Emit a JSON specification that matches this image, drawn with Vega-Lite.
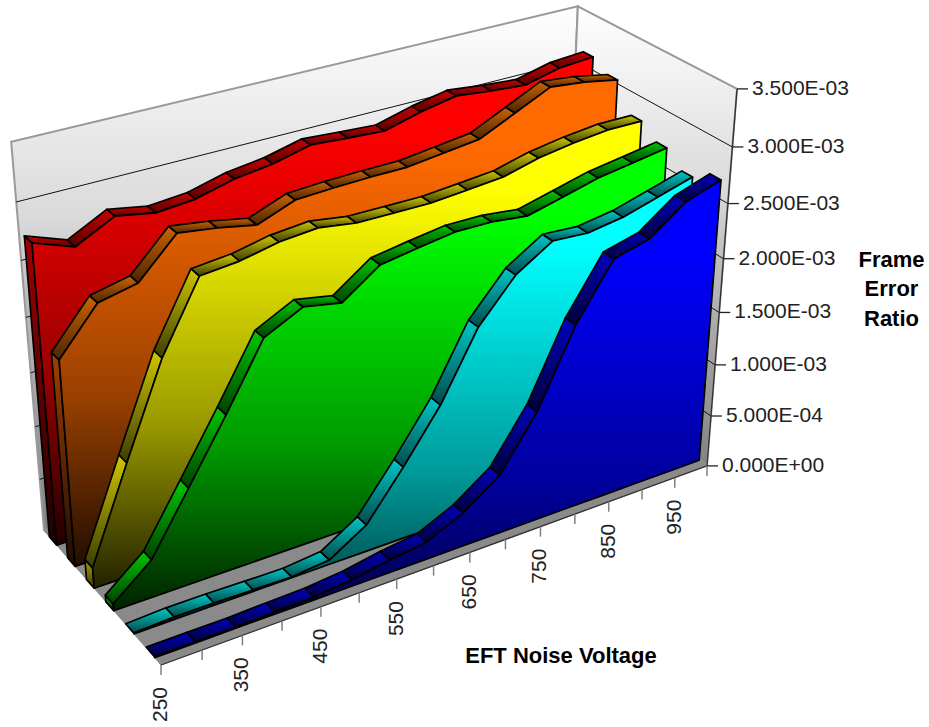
{"$schema":"https://vega.github.io/schema/vega-lite/v6.json","width":929,"height":727,"padding":0,"autosize":{"type":"none"},"background":"white","config":{"view":{"stroke":null},"text":{"font":"Liberation Sans"}},
"datasets":{
"fer":[
{"series":0,"voltage":250,"fer":0.00001},{"series":0,"voltage":300,"fer":0.00001},{"series":0,"voltage":350,"fer":0.00001},{"series":0,"voltage":400,"fer":0.00002},{"series":0,"voltage":450,"fer":0.000028},{"series":0,"voltage":500,"fer":0.00006},{"series":0,"voltage":550,"fer":0.000122},{"series":0,"voltage":600,"fer":0.000165},{"series":0,"voltage":650,"fer":0.000322},{"series":0,"voltage":700,"fer":0.000564},{"series":0,"voltage":750,"fer":0.001047},{"series":0,"voltage":800,"fer":0.001743},{"series":0,"voltage":850,"fer":0.00224},{"series":0,"voltage":900,"fer":0.002324},{"series":0,"voltage":950,"fer":0.002562},{"series":0,"voltage":1000,"fer":0.002667},
{"series":1,"voltage":250,"fer":0.000007},{"series":1,"voltage":300,"fer":0.000023},{"series":1,"voltage":350,"fer":0.000022},{"series":1,"voltage":400,"fer":0.000013},{"series":1,"voltage":450,"fer":0.000007},{"series":1,"voltage":500,"fer":0.000041},{"series":1,"voltage":550,"fer":0.000254},{"series":1,"voltage":600,"fer":0.000686},{"series":1,"voltage":650,"fer":0.001155},{"series":1,"voltage":700,"fer":0.001764},{"series":1,"voltage":750,"fer":0.002135},{"series":1,"voltage":800,"fer":0.002342},{"series":1,"voltage":850,"fer":0.00232},{"series":1,"voltage":900,"fer":0.00237},{"series":1,"voltage":950,"fer":0.00246},{"series":1,"voltage":1000,"fer":0.002552},
{"series":2,"voltage":250,"fer":0.000063},{"series":2,"voltage":300,"fer":0.00035},{"series":2,"voltage":350,"fer":0.000895},{"series":2,"voltage":400,"fer":0.001444},{"series":2,"voltage":450,"fer":0.00202},{"series":2,"voltage":500,"fer":0.002188},{"series":2,"voltage":550,"fer":0.002123},{"series":2,"voltage":600,"fer":0.002359},{"series":2,"voltage":650,"fer":0.002412},{"series":2,"voltage":700,"fer":0.002459},{"series":2,"voltage":750,"fer":0.002455},{"series":2,"voltage":800,"fer":0.002417},{"series":2,"voltage":850,"fer":0.002497},{"series":2,"voltage":900,"fer":0.002579},{"series":2,"voltage":950,"fer":0.002627},{"series":2,"voltage":1000,"fer":0.002677},
{"series":3,"voltage":250,"fer":0.000193},{"series":3,"voltage":300,"fer":0.001052},{"series":3,"voltage":350,"fer":0.001884},{"series":3,"voltage":400,"fer":0.002496},{"series":3,"voltage":450,"fer":0.002527},{"series":3,"voltage":500,"fer":0.002596},{"series":3,"voltage":550,"fer":0.002625},{"series":3,"voltage":600,"fer":0.002575},{"series":3,"voltage":650,"fer":0.002571},{"series":3,"voltage":700,"fer":0.002569},{"series":3,"voltage":750,"fer":0.002595},{"series":3,"voltage":800,"fer":0.002623},{"series":3,"voltage":850,"fer":0.002706},{"series":3,"voltage":900,"fer":0.002756},{"series":3,"voltage":950,"fer":0.00279},{"series":3,"voltage":1000,"fer":0.002788},
{"series":4,"voltage":250,"fer":0.001908},{"series":4,"voltage":300,"fer":0.002302},{"series":4,"voltage":350,"fer":0.002376},{"series":4,"voltage":400,"fer":0.00271},{"series":4,"voltage":450,"fer":0.002661},{"series":4,"voltage":500,"fer":0.002594},{"series":4,"voltage":550,"fer":0.002721},{"series":4,"voltage":600,"fer":0.002737},{"series":4,"voltage":650,"fer":0.002745},{"series":4,"voltage":700,"fer":0.002746},{"series":4,"voltage":750,"fer":0.002785},{"series":4,"voltage":800,"fer":0.002825},{"series":4,"voltage":850,"fer":0.002976},{"series":4,"voltage":900,"fer":0.003128},{"series":4,"voltage":950,"fer":0.003094},{"series":4,"voltage":1000,"fer":0.003034},
{"series":5,"voltage":250,"fer":0.002757},{"series":5,"voltage":300,"fer":0.002628},{"series":5,"voltage":350,"fer":0.0028},{"series":5,"voltage":400,"fer":0.002736},{"series":5,"voltage":450,"fer":0.002765},{"series":5,"voltage":500,"fer":0.002851},{"series":5,"voltage":550,"fer":0.002895},{"series":5,"voltage":600,"fer":0.002975},{"series":5,"voltage":650,"fer":0.002952},{"series":5,"voltage":700,"fer":0.002931},{"series":5,"voltage":750,"fer":0.003018},{"series":5,"voltage":800,"fer":0.003081},{"series":5,"voltage":850,"fer":0.003045},{"series":5,"voltage":900,"fer":0.00302},{"series":5,"voltage":950,"fer":0.003096},{"series":5,"voltage":1000,"fer":0.00312}
],
"frame":[
{"poly":"back","ord":0,"voltage":250,"depth":1,"fer":0},{"poly":"back","ord":1,"voltage":250,"depth":1,"fer":0.0035},{"poly":"back","ord":2,"voltage":1000,"depth":1,"fer":0.0035},{"poly":"back","ord":3,"voltage":1000,"depth":1,"fer":0},{"poly":"back","ord":4,"voltage":250,"depth":1,"fer":0},
{"poly":"side","ord":0,"voltage":1000,"depth":1,"fer":0},{"poly":"side","ord":1,"voltage":1000,"depth":1,"fer":0.0035},{"poly":"side","ord":2,"voltage":1000,"depth":0,"fer":0.0035},{"poly":"side","ord":3,"voltage":1000,"depth":0,"fer":0},{"poly":"side","ord":4,"voltage":1000,"depth":1,"fer":0},
{"poly":"floor","ord":0,"voltage":250,"depth":0,"fer":0},{"poly":"floor","ord":1,"voltage":1000,"depth":0,"fer":0},{"poly":"floor","ord":2,"voltage":1000,"depth":1,"fer":0},{"poly":"floor","ord":3,"voltage":250,"depth":1,"fer":0},{"poly":"floor","ord":4,"voltage":250,"depth":0,"fer":0},
{"poly":"edge","ord":0,"voltage":250,"depth":0,"fer":0},{"poly":"edge","ord":1,"voltage":1000,"depth":0,"fer":0},{"poly":"edge","ord":2,"voltage":1000,"depth":0,"fer":0.0035}
],
"ticks":[{"fer":0,"label":"0.000E+00"},{"fer":0.0005,"label":"5.000E-04"},{"fer":0.001,"label":"1.000E-03"},{"fer":0.0015,"label":"1.500E-03"},{"fer":0.002,"label":"2.000E-03"},{"fer":0.0025,"label":"2.500E-03"},{"fer":0.003,"label":"3.000E-03"},{"fer":0.0035,"label":"3.500E-03"}],
"volts":[{"voltage":250},{"voltage":300},{"voltage":350},{"voltage":400},{"voltage":450},{"voltage":500},{"voltage":550},{"voltage":600},{"voltage":650},{"voltage":700},{"voltage":750},{"voltage":800},{"voltage":850},{"voltage":900},{"voltage":950},{"voltage":1000}]
},
"data":{"name":"fer"},
"transform":[
{"window":[{"op":"lead","field":"fer","as":"f2"},{"op":"lead","field":"voltage","as":"v2"}],"groupby":["series"],"sort":[{"field":"voltage","order":"ascending"}]},
{"calculate":"['face','strip','end']","as":"part"},{"flatten":["part"]},
{"calculate":"[0,1,2,3,4]","as":"corner"},{"flatten":["corner"]},
{"filter":"(datum.part=='face'&&(datum.corner<2||(datum.corner==2&&datum.voltage==250)))||(datum.part=='strip'&&isValid(datum.v2))||(datum.part=='end'&&datum.voltage==250)"},
{"calculate":"datum.part=='face'?(datum.corner==2?99999:(datum.corner==0?datum.voltage:5000-datum.voltage)):datum.corner","as":"ord"},
{"calculate":"datum.part=='face'?0:datum.voltage","as":"poly"},
{"calculate":"(datum.part=='strip'&&(datum.corner==1||datum.corner==2)?(datum.v2-250):(datum.voltage-250))/750","as":"U"},
{"calculate":"datum.series/6+(datum.part=='face'?0.05:(datum.part=='strip'?((datum.corner==2||datum.corner==3)?0.1167:0.05):((datum.corner==1||datum.corner==2)?0.1167:0.05)))","as":"W"},
{"calculate":"datum.part=='face'?(datum.corner==1?0:datum.fer/0.0035):(datum.part=='strip'?((datum.corner==1||datum.corner==2)?datum.f2/0.0035:datum.fer/0.0035):((datum.corner==2||datum.corner==3)?0:datum.fer/0.0035))","as":"H"},
{"calculate":"1+0.1395*datum.U+0.0919*datum.W-0.09667*datum.H","as":"D"},
{"calculate":"(161+644.6*datum.U-112.9*datum.W-37*datum.H)/datum.D","as":"X"},
{"calculate":"(665-134.1*datum.U-85.6*datum.W-438.2*datum.H)/datum.D","as":"Y"}
],
"encoding":{
"x":{"field":"X","type":"quantitative","scale":{"domain":[0,929],"nice":false,"zero":false},"axis":{"orient":"top","title":"EFT Noise Voltage","titleX":560.5,"titleY":655,"titleFont":"Liberation Sans","titleFontWeight":"bold","titleFontSize":22,"titleColor":"#000000","titleAlign":"center","titleBaseline":"middle","labels":false,"ticks":false,"domain":false,"grid":false}},
"y":{"field":"Y","type":"quantitative","scale":{"domain":[727,0],"nice":false,"zero":false},"axis":{"orient":"left","title":["Frame","Error","Ratio"],"titleX":891,"titleY":259,"titleAngle":0,"titleFont":"Liberation Sans","titleFontWeight":"bold","titleFontSize":22,"titleLineHeight":29.5,"titleColor":"#000000","titleAlign":"center","titleBaseline":"middle","labels":false,"ticks":false,"domain":false,"grid":false}},
"order":{"field":"ord","type":"quantitative"},
"detail":{"field":"poly"}
},
"layer":[
{"data":{"name":"frame"},"transform":[{"filter":"datum.poly=='back'"},{"calculate":"(datum.voltage-250)/750","as":"U"},{"calculate":"datum.depth","as":"W"},{"calculate":"datum.fer/0.0035","as":"H"},{"calculate":"1+0.1395*datum.U+0.0919*datum.W-0.09667*datum.H","as":"D"},{"calculate":"(161+644.6*datum.U-112.9*datum.W-37*datum.H)/datum.D","as":"X"},{"calculate":"(665-134.1*datum.U-85.6*datum.W-438.2*datum.H)/datum.D","as":"Y"}],
"mark":{"type":"line","stroke":"#999999","strokeWidth":2,"fill":{"gradient":"linear","x1":0,"y1":0,"x2":0,"y2":1,"stops":[{"offset":0,"color":"#ffffff"},{"offset":0.4,"color":"#dadada"},{"offset":0.55,"color":"#bebebe"},{"offset":1,"color":"#828282"}]}}},
{"data":{"name":"frame"},"transform":[{"filter":"datum.poly=='side'"},{"calculate":"(datum.voltage-250)/750","as":"U"},{"calculate":"datum.depth","as":"W"},{"calculate":"datum.fer/0.0035","as":"H"},{"calculate":"1+0.1395*datum.U+0.0919*datum.W-0.09667*datum.H","as":"D"},{"calculate":"(161+644.6*datum.U-112.9*datum.W-37*datum.H)/datum.D","as":"X"},{"calculate":"(665-134.1*datum.U-85.6*datum.W-438.2*datum.H)/datum.D","as":"Y"}],
"mark":{"type":"line","stroke":"#999999","strokeWidth":2,"fill":{"gradient":"linear","x1":0,"y1":0,"x2":0,"y2":1,"stops":[{"offset":0,"color":"#ffffff"},{"offset":0.4,"color":"#dadada"},{"offset":0.55,"color":"#bebebe"},{"offset":1,"color":"#828282"}]}}},
{"data":{"name":"frame"},"transform":[{"filter":"datum.poly=='floor'"},{"calculate":"(datum.voltage-250)/750","as":"U"},{"calculate":"datum.depth","as":"W"},{"calculate":"datum.fer/0.0035","as":"H"},{"calculate":"1+0.1395*datum.U+0.0919*datum.W-0.09667*datum.H","as":"D"},{"calculate":"(161+644.6*datum.U-112.9*datum.W-37*datum.H)/datum.D","as":"X"},{"calculate":"(665-134.1*datum.U-85.6*datum.W-438.2*datum.H)/datum.D","as":"Y"}],
"mark":{"type":"line","fill":"#8a8a8a","stroke":"#8a8a8a","strokeWidth":1}},
{"data":{"name":"ticks"},"transform":[{"filter":"datum.fer>0&&datum.fer<0.0035"},{"calculate":"datum.fer","as":"poly"},{"calculate":"[0,1,2]","as":"ord"},{"flatten":["ord"]},{"calculate":"datum.ord==0?0:1","as":"U"},{"calculate":"datum.ord==2?0:1","as":"W"},{"calculate":"datum.fer/0.0035","as":"H"},{"calculate":"1+0.1395*datum.U+0.0919*datum.W-0.09667*datum.H","as":"D"},{"calculate":"(161+644.6*datum.U-112.9*datum.W-37*datum.H)/datum.D","as":"X"},{"calculate":"(665-134.1*datum.U-85.6*datum.W-438.2*datum.H)/datum.D","as":"Y"}],
"mark":{"type":"line","stroke":"#111111","strokeWidth":1}},
{"data":{"name":"frame"},"transform":[{"filter":"datum.poly=='edge'"},{"calculate":"(datum.voltage-250)/750","as":"U"},{"calculate":"datum.depth","as":"W"},{"calculate":"datum.fer/0.0035","as":"H"},{"calculate":"1+0.1395*datum.U+0.0919*datum.W-0.09667*datum.H","as":"D"},{"calculate":"(161+644.6*datum.U-112.9*datum.W-37*datum.H)/datum.D","as":"X"},{"calculate":"(665-134.1*datum.U-85.6*datum.W-438.2*datum.H)/datum.D","as":"Y"}],
"mark":{"type":"line","stroke":"#333333","strokeWidth":1.3}},

{"transform":[{"filter":"datum.part=='end'&&datum.series==5"}],"mark":{"type":"line","stroke":"#000000","strokeWidth":1.7,"strokeJoin":"round","fill":{"gradient":"linear","x1":0,"y1":0,"x2":0,"y2":1,"stops":[{"offset":0,"color":"#a00000"},{"offset":1,"color":"#1e0000"}]}}},
{"transform":[{"filter":"datum.part=='strip'&&datum.series==5"}],"mark":{"type":"line","stroke":"#000000","strokeWidth":1.7,"strokeJoin":"round","fill":{"gradient":"linear","x1":0,"y1":0,"x2":0,"y2":1,"stops":[{"offset":0,"color":"#d00000"},{"offset":1,"color":"#500000"}]}}},
{"transform":[{"filter":"datum.part=='face'&&datum.series==5"}],"mark":{"type":"line","stroke":"#000000","strokeWidth":1.7,"strokeJoin":"round","fill":{"gradient":"linear","x1":0,"y1":0,"x2":0,"y2":1,"stops":[{"offset":0,"color":"#ff0000"},{"offset":0.15,"color":"#ff0000"},{"offset":0.65,"color":"#990000"},{"offset":1,"color":"#220000"}]}}},

{"transform":[{"filter":"datum.part=='end'&&datum.series==4"}],"mark":{"type":"line","stroke":"#000000","strokeWidth":1.7,"strokeJoin":"round","fill":{"gradient":"linear","x1":0,"y1":0,"x2":0,"y2":1,"stops":[{"offset":0,"color":"#a04000"},{"offset":1,"color":"#1e0c00"}]}}},
{"transform":[{"filter":"datum.part=='strip'&&datum.series==4"}],"mark":{"type":"line","stroke":"#000000","strokeWidth":1.7,"strokeJoin":"round","fill":{"gradient":"linear","x1":0,"y1":0,"x2":0,"y2":1,"stops":[{"offset":0,"color":"#cc6400"},{"offset":1,"color":"#4a2400"}]}}},
{"transform":[{"filter":"datum.part=='face'&&datum.series==4"}],"mark":{"type":"line","stroke":"#000000","strokeWidth":1.7,"strokeJoin":"round","fill":{"gradient":"linear","x1":0,"y1":0,"x2":0,"y2":1,"stops":[{"offset":0,"color":"#ff6a00"},{"offset":0.15,"color":"#ff6a00"},{"offset":0.65,"color":"#994000"},{"offset":1,"color":"#220e00"}]}}},

{"transform":[{"filter":"datum.part=='end'&&datum.series==3"}],"mark":{"type":"line","stroke":"#000000","strokeWidth":1.7,"strokeJoin":"round","fill":{"gradient":"linear","x1":0,"y1":0,"x2":0,"y2":1,"stops":[{"offset":0,"color":"#b0a800"},{"offset":1,"color":"#3c3800"}]}}},
{"transform":[{"filter":"datum.part=='strip'&&datum.series==3"}],"mark":{"type":"line","stroke":"#000000","strokeWidth":1.7,"strokeJoin":"round","fill":{"gradient":"linear","x1":0,"y1":0,"x2":0,"y2":1,"stops":[{"offset":0,"color":"#d0c800"},{"offset":1,"color":"#3c3c00"}]}}},
{"transform":[{"filter":"datum.part=='face'&&datum.series==3"}],"mark":{"type":"line","stroke":"#000000","strokeWidth":1.7,"strokeJoin":"round","fill":{"gradient":"linear","x1":0,"y1":0,"x2":0,"y2":1,"stops":[{"offset":0,"color":"#ffff00"},{"offset":0.15,"color":"#ffff00"},{"offset":0.65,"color":"#999900"},{"offset":1,"color":"#222200"}]}}},

{"transform":[{"filter":"datum.part=='end'&&datum.series==2"}],"mark":{"type":"line","stroke":"#000000","strokeWidth":1.7,"strokeJoin":"round","fill":{"gradient":"linear","x1":0,"y1":0,"x2":0,"y2":1,"stops":[{"offset":0,"color":"#00a800"},{"offset":1,"color":"#004000"}]}}},
{"transform":[{"filter":"datum.part=='strip'&&datum.series==2"}],"mark":{"type":"line","stroke":"#000000","strokeWidth":1.7,"strokeJoin":"round","fill":{"gradient":"linear","x1":0,"y1":0,"x2":0,"y2":1,"stops":[{"offset":0,"color":"#00c800"},{"offset":1,"color":"#004000"}]}}},
{"transform":[{"filter":"datum.part=='face'&&datum.series==2"}],"mark":{"type":"line","stroke":"#000000","strokeWidth":1.7,"strokeJoin":"round","fill":{"gradient":"linear","x1":0,"y1":0,"x2":0,"y2":1,"stops":[{"offset":0,"color":"#00ff00"},{"offset":0.15,"color":"#00ff00"},{"offset":0.65,"color":"#009900"},{"offset":1,"color":"#002200"}]}}},

{"transform":[{"filter":"datum.part=='strip'&&datum.series==1"}],"mark":{"type":"line","stroke":"#000000","strokeWidth":1.7,"strokeJoin":"round","fill":{"gradient":"linear","x1":0,"y1":0,"x2":0,"y2":1,"stops":[{"offset":0,"color":"#00c8c8"},{"offset":1,"color":"#004a4a"}]}}},
{"transform":[{"filter":"datum.part=='face'&&datum.series==1"}],"mark":{"type":"line","stroke":"#000000","strokeWidth":1.7,"strokeJoin":"round","fill":{"gradient":"linear","x1":0,"y1":0,"x2":0,"y2":1,"stops":[{"offset":0,"color":"#00ffff"},{"offset":0.15,"color":"#00ffff"},{"offset":0.65,"color":"#009999"},{"offset":1,"color":"#002e2e"}]}}},

{"transform":[{"filter":"datum.part=='strip'&&datum.series==0"}],"mark":{"type":"line","stroke":"#000000","strokeWidth":1.7,"strokeJoin":"round","fill":{"gradient":"linear","x1":0,"y1":0,"x2":0,"y2":1,"stops":[{"offset":0,"color":"#0000c0"},{"offset":1,"color":"#000038"}]}}},
{"transform":[{"filter":"datum.part=='face'&&datum.series==0"}],"mark":{"type":"line","stroke":"#000000","strokeWidth":1.7,"strokeJoin":"round","fill":{"gradient":"linear","x1":0,"y1":0,"x2":0,"y2":1,"stops":[{"offset":0,"color":"#0000ff"},{"offset":0.15,"color":"#0000ff"},{"offset":0.65,"color":"#000099"},{"offset":1,"color":"#000028"}]}}},

{"data":{"name":"ticks"},"transform":[{"calculate":"datum.fer/0.0035","as":"H"},{"calculate":"1.1395-0.09667*datum.H","as":"D"},{"calculate":"(805.6-37*datum.H)/datum.D","as":"X"},{"calculate":"(530.9-438.2*datum.H)/datum.D","as":"Y"},{"calculate":"datum.X+11","as":"X2"}],
"mark":{"type":"rule","stroke":"#222222","strokeWidth":1.3},"encoding":{"x2":{"field":"X2"}}},
{"data":{"name":"ticks"},"transform":[{"calculate":"datum.fer/0.0035","as":"H"},{"calculate":"1.1395-0.09667*datum.H","as":"D"},{"calculate":"(805.6-37*datum.H)/datum.D","as":"X"},{"calculate":"(530.9-438.2*datum.H)/datum.D","as":"Y"}],
"mark":{"type":"text","align":"left","baseline":"middle","dx":15,"fontSize":21,"font":"Liberation Sans","fill":"#222222"},"encoding":{"text":{"field":"label"}}},
{"data":{"name":"volts"},"transform":[{"calculate":"(datum.voltage-250)/750","as":"U"},{"calculate":"1+0.1395*datum.U","as":"D"},{"calculate":"(161+644.6*datum.U)/datum.D","as":"X"},{"calculate":"(665-134.1*datum.U)/datum.D","as":"Y"},{"calculate":"datum.Y+10","as":"Y2"}],
"mark":{"type":"rule","stroke":"#808080","strokeWidth":1.5},"encoding":{"y2":{"field":"Y2"}}},
{"data":{"name":"volts"},"transform":[{"filter":"(datum.voltage-250)%100==0"},{"calculate":"(datum.voltage-250)/750","as":"U"},{"calculate":"1+0.1395*datum.U","as":"D"},{"calculate":"(161+644.6*datum.U)/datum.D","as":"X"},{"calculate":"(665-134.1*datum.U)/datum.D+22","as":"Y"}],
"mark":{"type":"text","angle":270,"align":"right","baseline":"middle","fontSize":21,"font":"Liberation Sans","fill":"#222222"},"encoding":{"text":{"field":"voltage","type":"quantitative"}}}
]}
